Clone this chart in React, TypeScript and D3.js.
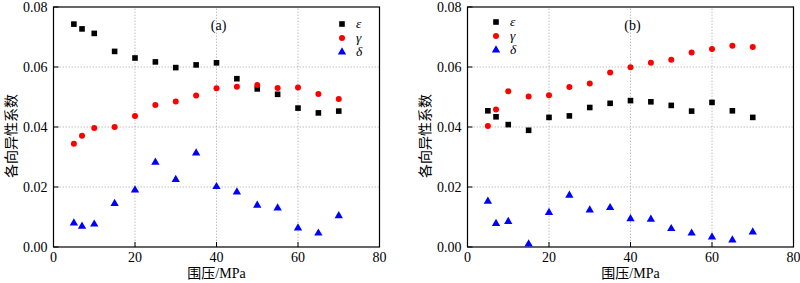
import React from "react";
import * as d3 from "d3";

const pressure = [5, 7, 10, 15, 20, 25, 30, 35, 40, 45, 50, 55, 60, 65, 70];
const aEps = [0.0743, 0.0727, 0.0712, 0.0652, 0.063, 0.0617, 0.0598, 0.0607, 0.0614, 0.0561, 0.0527, 0.0509, 0.0463, 0.0447, 0.0453];
const aGam = [0.0344, 0.0371, 0.0397, 0.04, 0.0437, 0.0473, 0.0485, 0.0505, 0.0529, 0.0534, 0.054, 0.053, 0.0532, 0.051, 0.0493];
const aDel = [0.008, 0.0069, 0.0076, 0.0145, 0.019, 0.0282, 0.0225, 0.0313, 0.0201, 0.0183, 0.0139, 0.013, 0.0063, 0.0046, 0.0104];
const bEps = [0.0454, 0.0434, 0.0408, 0.0389, 0.0432, 0.0437, 0.0465, 0.0479, 0.0488, 0.0484, 0.0472, 0.0453, 0.0482, 0.0454, 0.0432];
const bGam = [0.0403, 0.0458, 0.0519, 0.0502, 0.0506, 0.0533, 0.0545, 0.0582, 0.0599, 0.0614, 0.0624, 0.0648, 0.066, 0.0671, 0.0667];
const bDel = [0.0152, 0.0078, 0.0085, 0.001, 0.0115, 0.0172, 0.0123, 0.0131, 0.0094, 0.0092, 0.0061, 0.0046, 0.0033, 0.0023, 0.005];
const xTicks = [0, 20, 40, 60, 80];
const yTicks = [0, 0.02, 0.04, 0.06, 0.08];
const seriesNames = ["ε", "γ", "δ"];
const colors = ["#000000", "#ff0000", "#0000ff"];

const serif = "'Liberation Serif', 'Times New Roman', 'Noto Sans CJK SC', serif";

function Marker({ kind, x, y }: { kind: number; x: number; y: number }) {
  if (kind === 0) return <rect x={x - 2.8} y={y - 2.8} width={5.6} height={5.6} fill={colors[0]} />;
  if (kind === 1) return <circle cx={x} cy={y} r={3} fill={colors[1]} />;
  const s = d3.symbol(d3.symbolTriangle, 30)();
  return <path d={s || ""} transform={`translate(${x},${y})`} fill={colors[2]} />;
}

function Panel({ x0, label, data, legendX, legendY }: { x0: number; label: string; data: number[][]; legendX: number; legendY: number }) {
  const x = d3.scaleLinear().domain([0, 80]).range([x0, x0 + 326]);
  const y = d3.scaleLinear().domain([0, 0.08]).range([247, 7]);
  const [X0, X1] = x.range();
  const [Y0, Y1] = y.range();
  return (
    <g>
      {xTicks.slice(1, -1).map((t) => (
        <line key={"gx" + t} x1={x(t)} x2={x(t)} y1={Y0} y2={Y1} stroke="#b0b0b0" strokeWidth={0.8} strokeDasharray="1.5,1.5" />
      ))}
      {yTicks.slice(1, -1).map((t) => (
        <line key={"gy" + t} x1={X0} x2={X1} y1={y(t)} y2={y(t)} stroke="#b0b0b0" strokeWidth={0.8} strokeDasharray="1.5,1.5" />
      ))}
      <rect x={X0} y={Y1} width={X1 - X0} height={Y0 - Y1} fill="none" stroke="#000" strokeWidth={1.2} />
      {xTicks.map((t) => (
        <g key={"tx" + t}>
          <line x1={x(t)} x2={x(t)} y1={Y0} y2={Y0 - 5} stroke="#000" />
          <text x={x(t)} y={Y0 + 15} textAnchor="middle" fontFamily={serif} fontSize={14}>{t}</text>
        </g>
      ))}
      {yTicks.map((t) => (
        <g key={"ty" + t}>
          <line x1={X0} x2={X0 + 5} y1={y(t)} y2={y(t)} stroke="#000" />
          <text x={X0 - 6} y={y(t) + 4.5} textAnchor="end" fontFamily={serif} fontSize={14}>{t.toFixed(2)}</text>
        </g>
      ))}
      <text x={(X0 + X1) / 2} y={278} textAnchor="middle" fontFamily={serif} fontSize={14}>围压/MPa</text>
      <text transform={`translate(${X0 - 38},136) rotate(-90)`} textAnchor="middle" fontFamily={serif} fontSize={14}>各向异性系数</text>
      <text x={x(40.5)} y={30} textAnchor="middle" fontFamily={serif} fontSize={14}>{label}</text>
      {data.map((vals, k) =>
        vals.map((v, i) => <Marker key={k + "-" + i} kind={k} x={x(pressure[i])} y={y(v)} />)
      )}
      {seriesNames.map((n, k) => (
        <g key={"lg" + n}>
          <Marker kind={k} x={legendX} y={legendY + k * 14} />
          <text x={legendX + 14} y={legendY + k * 14 + 4} fontFamily={serif} fontStyle="italic" fontSize={13.5}>{n}</text>
        </g>
      ))}
    </g>
  );
}

export default function App() {
  return (
    <svg width={800} height={283} style={{ position: "fixed", left: 0, top: 0, background: "#fff" }}>
      <rect width={800} height={283} fill="#fff" />
      <Panel x0={53.5} label="(a)" data={[aEps, aGam, aDel]} legendX={342} legendY={24} />
      <Panel x0={467.5} label="(b)" data={[bEps, bGam, bDel]} legendX={496} legendY={22} />
    </svg>
  );
}
